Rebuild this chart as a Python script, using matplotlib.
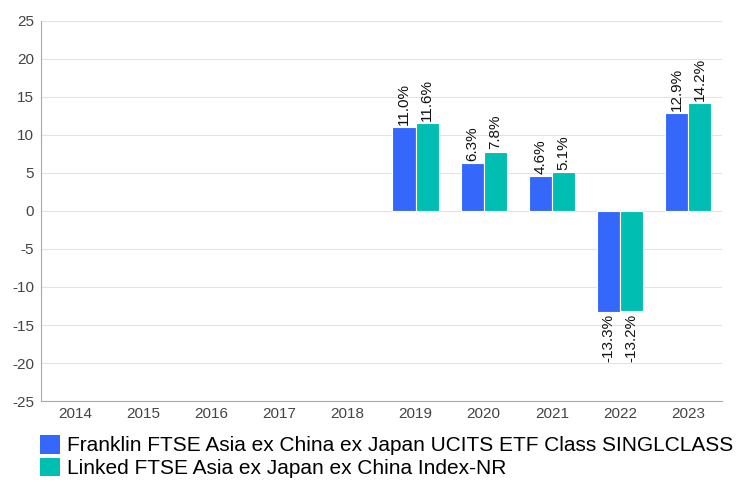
import matplotlib
matplotlib.use("Agg")
import matplotlib.pyplot as plt
from matplotlib.patches import Patch
import numpy as np

plt.rcParams['font.family'] = ['Liberation Sans', 'DejaVu Sans']
plt.rcParams['axes.unicode_minus'] = False

years = ["2014", "2015", "2016", "2017", "2018", "2019", "2020", "2021", "2022", "2023"]
fund = [None, None, None, None, None, 11.0, 6.3, 4.6, -13.3, 12.9]
index = [None, None, None, None, None, 11.6, 7.8, 5.1, -13.2, 14.2]
series_names = ["Franklin FTSE Asia ex China ex Japan UCITS ETF Class SINGLCLASS",
                "Linked FTSE Asia ex Japan ex China Index-NR"]
colors = ["#3567fb", "#00bfb2"]

fig = plt.figure(figsize=(7.5, 4.82), dpi=100)
ax = fig.add_axes([0.0547, 0.168, 0.908, 0.7886])

x = np.arange(len(years))
w = 0.34
for i, (vals, col) in enumerate(zip([fund, index], colors)):
    for xi, v in zip(x, vals):
        if v is None:
            continue
        pos = xi + (i - 0.5) * w
        ax.bar(pos, v, width=w, color=col, edgecolor="white", linewidth=0.8, zorder=3)
        if v >= 0:
            ax.text(pos, v + 0.3, f"{v:.1f}%", rotation=90, ha="center", va="bottom",
                    fontsize=11, color="#111111")
        else:
            ax.text(pos, v - 0.3, f"{v:.1f}%", rotation=90, ha="center", va="top",
                    fontsize=11, color="#111111")

ax.set_xlim(-0.5, len(years) - 0.5)
ax.set_ylim(-25, 25)
ax.set_yticks(np.arange(-25, 26, 5))
ax.set_xticks(x)
ax.set_xticklabels(years)
ax.tick_params(axis="both", length=0, labelsize=11, colors="#444444")
ax.tick_params(axis="y", pad=5)
ax.tick_params(axis="x", pad=4)
ax.grid(axis="y", color="#e3e3e3", linewidth=0.8, zorder=0)
for s in ["top", "right"]:
    ax.spines[s].set_visible(False)
for s in ["left", "bottom"]:
    ax.spines[s].set_color("#aaaaaa")
    ax.spines[s].set_linewidth(0.8)

handles = [Patch(facecolor=c, edgecolor="none") for c in colors]
fig.legend(handles, series_names, loc="lower left", bbox_to_anchor=(0.051, 0.004),
           frameon=False, fontsize=15, handlelength=0.95, handleheight=1.0,
           handletextpad=0.35, labelspacing=0.1, borderaxespad=0.0, borderpad=0.1)

fig.savefig("out.png", dpi=100)
